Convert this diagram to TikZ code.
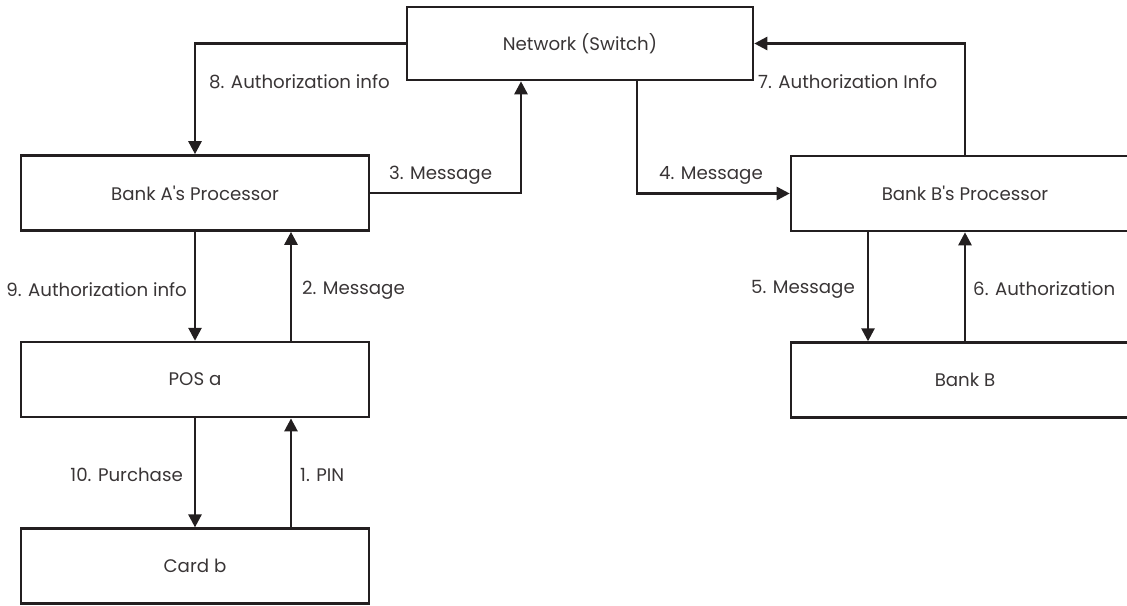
\documentclass[tikz,border=0pt]{standalone}
\usepackage{fontspec}
\setmainfont{Poppins}
\usepackage{tikz}
\usetikzlibrary{positioning,arrows.meta}
\usepackage{xcolor}
\definecolor{ink}{HTML}{231F20}

\begin{document}
\begin{tikzpicture}[x=1pt,y=-1pt,node distance=109pt,font=\fontsize{18.2}{21}\selectfont]
    \tikzstyle{blk}=[draw=ink,line width=2.6pt,minimum width=348pt,minimum height=75pt,align=center,text=ink!90]
    \tikzstyle{arr}=[-{Triangle[length=13pt,width=13pt]},line width=2.6pt,draw=ink]
    \tikzstyle{lbl}=[inner sep=0pt,text=ink!90]
    \clip (0,0) rectangle (1127,605);
    \node[blk,minimum width=346pt,minimum height=73pt] (net) at (580,43.5) {Network (Switch)};
    \node[blk] (bankA) at (195,193) {Bank A\textquotesingle s Processor};
    \node[blk,below=of bankA] (pos) {POS a};
    \node[blk,below=of pos] (card) {Card b};
    \node[blk] (bankBp) at (965,193.5) {Bank B\textquotesingle s Processor};
    \node[blk,below=of bankBp] (bankB) {Bank B};

    % network <-> processors
    \draw[arr] (net.west) -| (bankA.north);
    \draw[arr] (bankA.east) -| ([xshift=-59pt]net.south);
    \draw[arr] ([xshift=57pt]net.south) |- (bankBp.west);
    \draw[arr] (bankBp.north) |- (net.east);
    \node[lbl,anchor=west] (l8) at (209,82) {8. Authorization info};
    \node[lbl,anchor=west] (l3) at (389,175) {3. Message};
    \node[lbl,anchor=west] (l4) at (659,175) {4. Message};
    \node[lbl,anchor=west] (l7) at (758,82) {7. Authorization Info};

    % left column
    \draw[arr] (bankA.south) -- (pos.north);
    \draw[arr] ([xshift=96pt]pos.north) -- ([xshift=96pt]bankA.south);
    \draw[arr] (pos.south) -- (card.north);
    \draw[arr] ([xshift=96pt]card.north) -- ([xshift=96pt]pos.south);
    \node[lbl,anchor=east] (l9) at (187,290) {9. Authorization info};
    \node[lbl,anchor=west] (l2) at (302,290) {2. Message};
    \node[lbl,anchor=east] (l10) at (183,475) {10. Purchase};
    \node[lbl,anchor=west] (l1) at (300,475) {1. PIN};

    % right column
    \draw[arr] ([xshift=-97pt]bankBp.south) -- ([xshift=-97pt]bankB.north);
    \draw[arr] (bankB.north) -- (bankBp.south);
    \node[lbl,anchor=east] (l5) at (855,289) {5. Message};
    \node[lbl,anchor=west] (l6) at (973,289) {6. Authorization};
\end{tikzpicture}
\end{document}
